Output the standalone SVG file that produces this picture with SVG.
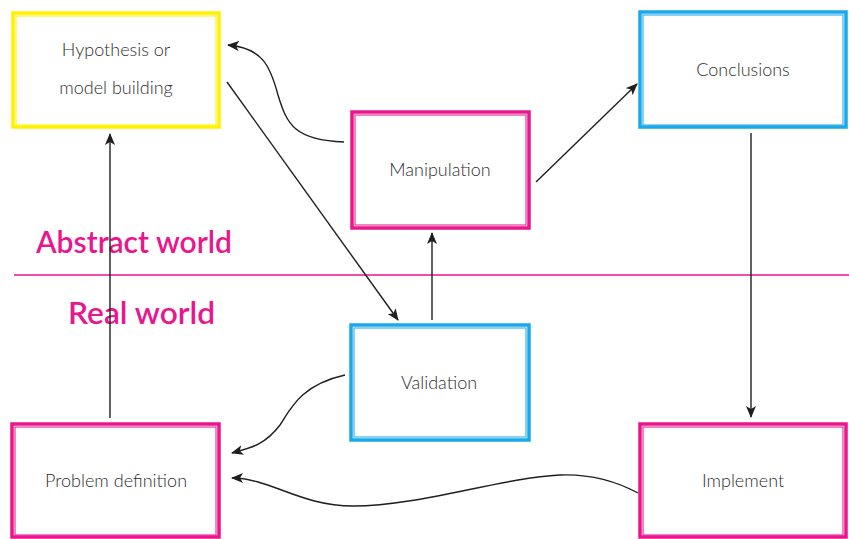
<svg xmlns="http://www.w3.org/2000/svg" width="849" height="539" viewBox="0 0 849 539">
<defs>
<style>
.bg{fill:#ffffff}
.box{fill:#ffffff;stroke-width:3.5}
.box2{fill:none;stroke-width:1.3;opacity:0.8}
.y{stroke:#fff200}
.m{stroke:#e9168c}
.c{stroke:#1ba8e8}
.lbl{font-family:"Lato","Liberation Sans",sans-serif;font-size:18px;fill:#2e2e2e;text-anchor:middle;font-weight:300}
.world{font-family:"Lato","Liberation Sans",sans-serif;font-size:31px;fill:#e9168c;font-weight:600}
.conn{fill:none;stroke:#1f1f1f;stroke-width:1.4}
</style>
<marker id="ah" viewBox="0 0 12 10" refX="11" refY="5" markerWidth="12" markerHeight="10" markerUnits="userSpaceOnUse" orient="auto">
<path d="M0,0 L12,5 L0,10 L3,5 Z" fill="#1f1f1f"/>
</marker>
</defs>
<rect class="bg" x="0" y="0" width="849" height="539"/>
<line x1="14" y1="275" x2="849" y2="275" stroke="#e9168c" stroke-width="1.5"/>
<text class="world" x="36" y="253" textLength="196" lengthAdjust="spacingAndGlyphs">Abstract world</text>
<text class="world" x="68" y="324" textLength="147" lengthAdjust="spacingAndGlyphs">Real world</text>
<g id="hypothesis">
<rect class="box y" x="13" y="13" width="206" height="114"/>
<rect class="box2 y" x="16" y="16" width="200" height="109"/>
<text class="lbl" x="116" y="56">Hypothesis or</text>
<text class="lbl" x="116" y="94">model building</text>
</g>
<g id="manipulation">
<rect class="box m" x="352" y="112" width="177" height="116"/>
<rect class="box2 m" x="355" y="115" width="171" height="110"/>
<text class="lbl" x="440" y="176">Manipulation</text>
</g>
<g id="conclusions">
<rect class="box c" x="640" y="12" width="206" height="115"/>
<rect class="box2 c" x="643" y="15" width="200" height="110"/>
<text class="lbl" x="743" y="76">Conclusions</text>
</g>
<g id="validation">
<rect class="box c" x="351" y="325" width="178" height="115"/>
<rect class="box2 c" x="354" y="328" width="172" height="109"/>
<text class="lbl" x="439" y="389">Validation</text>
</g>
<g id="problem">
<rect class="box m" x="12" y="424" width="207" height="113"/>
<rect class="box2 m" x="15" y="427" width="201" height="108"/>
<text class="lbl" x="116" y="487">Problem definition</text>
</g>
<g id="implement">
<rect class="box m" x="640" y="424" width="206" height="113"/>
<rect class="box2 m" x="643" y="427" width="200" height="108"/>
<text class="lbl" x="743" y="487">Implement</text>
</g>
<g id="connectors">
<path class="conn" d="M110,418 L110,134" marker-end="url(#ah)"/>
<path class="conn" d="M344,142 C295,140 287,125 278,95 C270,65 262,48 228,45" marker-end="url(#ah)"/>
<path class="conn" d="M227,82 L398,320" marker-end="url(#ah)"/>
<path class="conn" d="M432,320 L432,233" marker-end="url(#ah)"/>
<path class="conn" d="M536,182 L637,84" marker-end="url(#ah)"/>
<path class="conn" d="M751,133 L751,417" marker-end="url(#ah)"/>
<path class="conn" d="M345,375 C300,385 290,410 280,425 C265,445 250,448 232,453" marker-end="url(#ah)"/>
<path class="conn" d="M638,493 C610,478 585,474 560,475 C500,478 420,506 353,506 C300,506 270,478 232,478" marker-end="url(#ah)"/>
</g>
</svg>
